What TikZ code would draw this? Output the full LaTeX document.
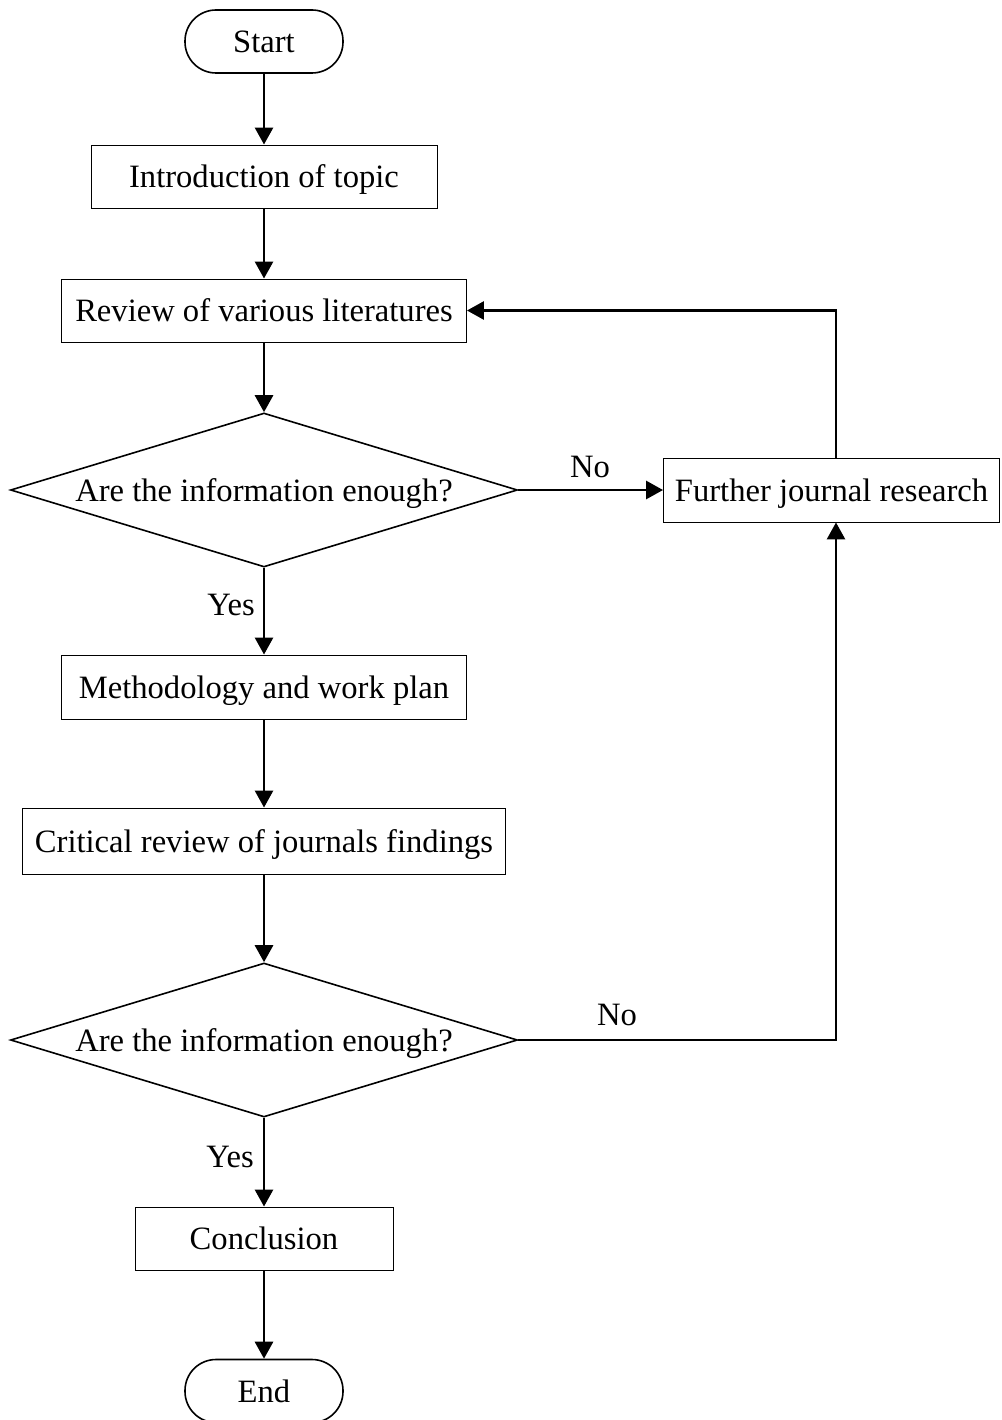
\documentclass[tikz,border=0pt]{standalone}
\usepackage{fontspec}
\setmainfont{Liberation Serif}
\usetikzlibrary{shapes.geometric,arrows.meta}
\begin{document}
\begin{tikzpicture}[x=1pt,y=-1pt,
  every node/.style={font=\fontsize{32.6}{39}\selectfont, inner sep=0pt},
  boxtext/.style={text height=29pt, text depth=7pt},
  terminal/.style={draw, boxtext, line width=1.6pt, rounded corners=31pt, minimum width=158pt, minimum height=63pt},
  procbox/.style={draw, boxtext, line width=0.9pt, minimum height=63pt},
  decision/.style={draw, boxtext, diamond, line width=1.6pt, minimum width=507pt, minimum height=154pt, aspect=3.3},
  flow/.style={line width=2.8pt, -{Triangle[length=17pt,width=18pt]}},
  lbl/.style={}
]
\clip (0,0) rectangle (1001,1420);
\fill[white] (0,0) rectangle (1001,1420);

% main column
\node[terminal] (start) at (264,41.5) {Start};
\node[procbox, minimum width=346pt] (intro) at (264,176.5) {Introduction of topic};
\node[procbox, minimum width=405pt] (review) at (264,310.5) {Review of various literatures};
\node[decision] (dec1) at (264,490) {Are the information enough?};
\node[procbox, minimum width=405pt, minimum height=64pt] (meth) at (264,687) {Methodology and work plan};
\node[procbox, minimum width=483pt, minimum height=66pt] (crit) at (264,841) {Critical review of journals findings};
\node[decision] (dec2) at (264,1040) {Are the information enough?};
\node[procbox, minimum width=258pt] (concl) at (264,1238.5) {Conclusion};
\node[terminal] (finish) at (264,1391) {End};

% side branch
\node[procbox, minimum width=336pt, minimum height=64pt] (further) at (831.5,490) {Further journal research};
\coordinate (loopx) at (836,0);

% connectors
\draw[flow] (start) -- (intro);
\draw[flow] (intro) -- (review);
\draw[flow] (review) -- (dec1);
\draw[flow] (dec1) -- (meth);
\draw[flow] (meth) -- (crit);
\draw[flow] (crit) -- (dec2);
\draw[flow] (dec2) -- (concl);
\draw[flow] (concl) -- (finish);

\draw[flow] (dec1.east) -- (further.west);
\draw[flow] (further.north -| loopx) |- (review.east);
\draw[flow] (dec2.east) -| (further.south -| loopx);

% branch labels
\node[lbl] (no1) at (590,467) {No};
\node[lbl] (no2) at (617,1015) {No};
\node[lbl] (yes1) at (231,605) {Yes};
\node[lbl] (yes2) at (230,1157) {Yes};
\end{tikzpicture}
\end{document}
